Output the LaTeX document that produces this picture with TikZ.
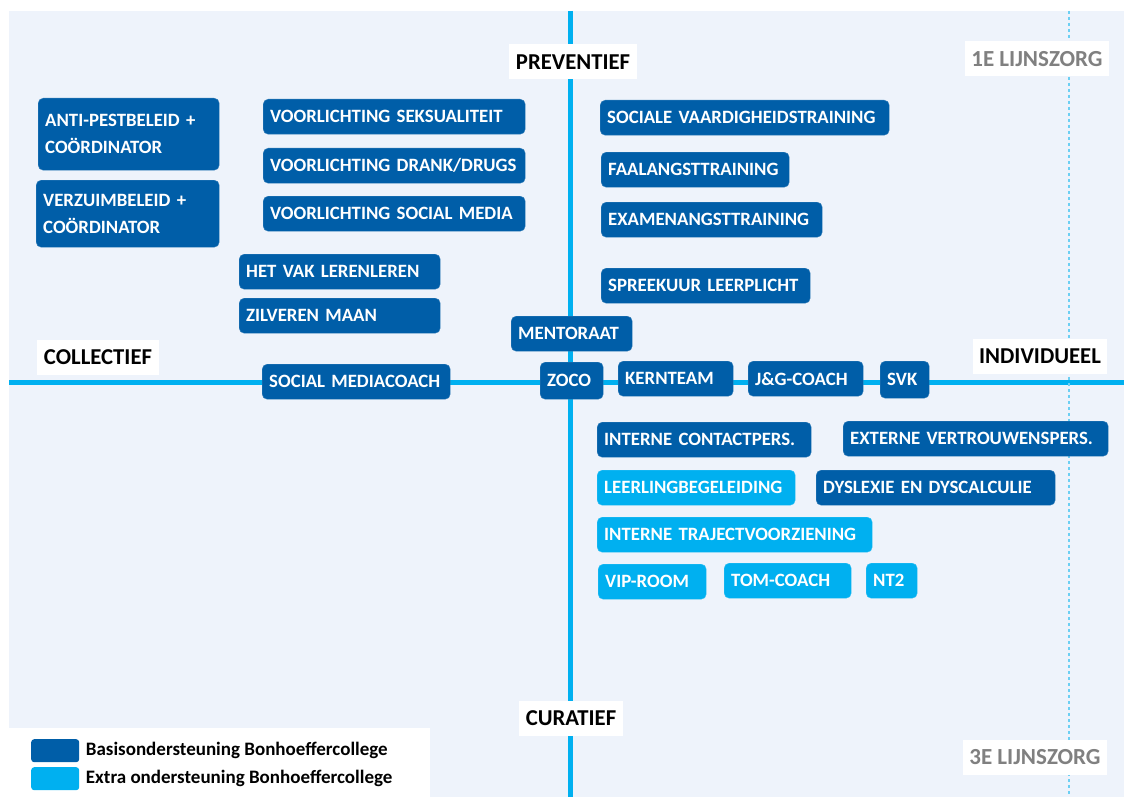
\documentclass[tikz,border=0pt]{standalone}
\usepackage{fontspec}
\setmainfont{Carlito}
\usetikzlibrary{positioning}
\definecolor{basisblue}{HTML}{005EA8}
\definecolor{extrablue}{HTML}{00B0F0}
\definecolor{panelbg}{HTML}{EEF3FB}
\definecolor{axisblue}{HTML}{00B0F0}
\definecolor{dashblue}{HTML}{6CCFF3}
\definecolor{zorggray}{HTML}{808080}
\newcommand\boxfont{\fontsize{18.8}{27}\selectfont\bfseries}
\newcommand\axisfont{\fontsize{22.7}{25}\selectfont\bfseries}
\newcommand\zorgfont{\fontsize{23}{25}\selectfont\bfseries}
\newcommand\legendfont{\fontsize{19}{22}\selectfont\bfseries}
\tikzset{
    box/.style={rounded corners=5pt, text=white, font=\boxfont, anchor=north west, align=left, inner xsep=7pt, inner ysep=0pt, minimum height=35pt},
    basis/.style={box, fill=basisblue, draw=basisblue!80!white},
    extra/.style={box, fill=extrablue, draw=extrablue!80!white},
    axislabel/.style={fill=white, font=\axisfont, inner xsep=6.5pt, minimum height=35pt},
    zorg/.style={axislabel, font=\zorgfont, text=zorggray},
    axis/.style={draw=axisblue, line width=5pt},
    swatch/.style={rounded corners=3pt, anchor=north west, minimum width=48pt, minimum height=23pt, inner sep=0pt}
}

\begin{document}
\begin{tikzpicture}[x=1pt, y=-1pt]
\useasboundingbox (0,0) rectangle (1124,797);
\fill[white] (0,0) rectangle (1124,797);
\fill[panelbg] (9,11) rectangle (1124,797);

% axes
\coordinate (ptop) at (570,11);
\coordinate (pbot) at (570,797);
\coordinate (pleft) at (9,382);
\coordinate (pright) at (1124,382);
\coordinate (ltop) at (1069,11);
\coordinate (lbot) at (1069,797);
\draw[axis] (ptop) -- (pbot);
\draw[axis] (pleft) -- (pright);
\draw[dashblue, line width=1.5pt, dashed] (ltop) -- (lbot);

\node[axislabel] (prev) at (573,62) {PREVENTIEF};
\node[axislabel] (cur) at (571,718) {CURATIEF};
\node[axislabel] (coll) at (98,357) {COLLECTIEF};
\node[axislabel] (indiv) at (1040,356) {INDIVIDUEEL};
\node[zorg] (eerste) at (1037,59) {1E LIJNSZORG};
\node[zorg] (derde) at (1035,757) {3E LIJNSZORG};

% collectief
\node[basis, text width=167pt, minimum height=72pt] (antipest) at (38,98) {ANTI-PESTBELEID +\\COÖRDINATOR};
\node[basis, text width=169pt, minimum height=67pt] (verzuim) at (36,180) {VERZUIMBELEID +\\COÖRDINATOR};
\node[basis, text width=248pt] (vsex) at (263,99) {VOORLICHTING SEKSUALITEIT};
\node[basis, text width=248pt] (vdrank) at (263,148) {VOORLICHTING DRANK/DRUGS};
\node[basis, text width=248pt] (vsocial) at (263,196) {VOORLICHTING SOCIAL MEDIA};
\node[basis, text width=187pt] (leren) at (239,254) {HET VAK LERENLEREN};
\node[basis, text width=187pt] (zilver) at (239,298) {ZILVEREN MAAN};
\node[basis, text width=174pt] (smcoach) at (262,364) {SOCIAL MEDIACOACH};

% midden
\node[basis, text width=107pt] (mentor) at (511,316) {MENTORAAT};
\node[basis, text width=49pt, minimum height=37pt] (zoco) at (540,362) {ZOCO};
\node[basis, text width=101pt] (kern) at (618,361) {KERNTEAM};
\node[basis, text width=101pt] (jg) at (748,361) {J\&G-COACH};
\node[basis, text width=35pt, minimum height=37pt] (svk) at (880,361) {SVK};

% individueel, preventief
\node[basis, text width=275pt] (sociale) at (600,100) {SOCIALE VAARDIGHEIDSTRAINING};
\node[basis, text width=174pt] (faal) at (601,152) {FAALANGSTTRAINING};
\node[basis, text width=207pt] (examen) at (601,202) {EXAMENANGSTTRAINING};
\node[basis, text width=195pt] (spreek) at (601,268) {SPREEKUUR LEERPLICHT};

% individueel, curatief
\node[basis, text width=200pt] (icp) at (597,422) {INTERNE CONTACTPERS.};
\node[basis, text width=251pt] (evp) at (843,421) {EXTERNE VERTROUWENSPERS.};
\node[extra, text width=184pt] (llb) at (597,470) {LEERLINGBEGELEIDING};
\node[basis, text width=225pt] (dys) at (816,470) {DYSLEXIE EN DYSCALCULIE};
\node[extra, text width=261pt] (itv) at (597,517) {INTERNE TRAJECTVOORZIENING};
\node[extra, text width=94pt] (vip) at (598,564) {VIP-ROOM};
\node[extra, text width=113pt] (tom) at (724,563) {TOM-COACH};
\node[extra, text width=37pt] (nt2) at (866,563) {NT2};

% legenda
\fill[white] (9,728) rectangle (430,797);
\node[swatch, fill=basisblue] (swbasis) at (31,739) {};
\node[swatch, fill=extrablue] (swextra) at (31,767) {};
\node[font=\legendfont, anchor=west, right=3pt of swbasis] (lbasis) {Basisondersteuning Bonhoeffercollege};
\node[font=\legendfont, anchor=west, right=3pt of swextra] (lextra) {Extra ondersteuning Bonhoeffercollege};
\end{tikzpicture}
\end{document}
